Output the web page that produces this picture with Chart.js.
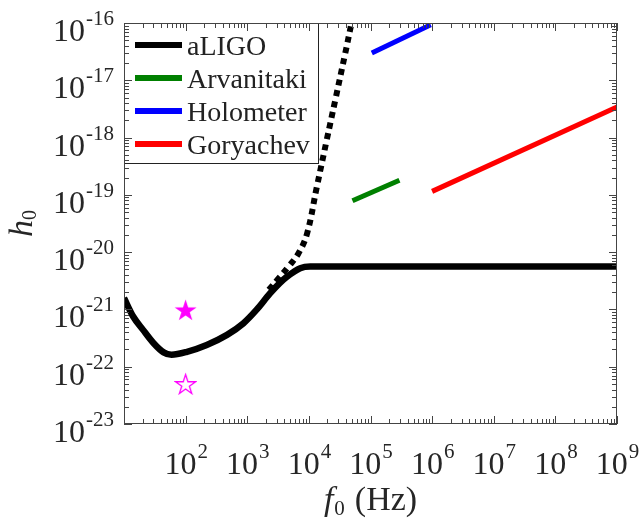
<!DOCTYPE html>
<html>
<head>
<meta charset="utf-8">
<script src="https://cdn.jsdelivr.net/npm/chart.js@4/dist/chart.umd.min.js"></script>
<style>
  html, body { margin: 0; padding: 0; background: #fff; }
  canvas { display: block; }
</style>
</head>
<body>
<canvas id="c" width="639" height="519"></canvas>
<script>
// values (f in Hz, h dimensionless)
const ligoF = [10, 14, 20.4, 30, 44, 59, 105, 220, 470, 870, 1410, 2340, 3390, 4370, 7240, 10500, 1e9];
const ligoH = [1.58e-21, 7.6e-22, 4.4e-22, 2.6e-22, 1.78e-22, 1.62e-22, 1.82e-22, 2.4e-22, 3.6e-22, 5.75e-22, 9.8e-22, 1.9e-21, 2.9e-21, 3.7e-21, 5.25e-21, 5.6e-21, 5.6e-21];
const ligoDotF = [2240, 3240, 4680, 6760, 9330, 13500, 19500, 26900, 38900, 47900];
const ligoDotH = [2.2e-21, 3.5e-21, 5.6e-21, 9.5e-21, 2.1e-20, 1.4e-19, 9.1e-19, 4.6e-18, 2.95e-17, 8.7e-17];
const arvF = [5.1e4, 2.95e5];
const arvH = [7.9e-20, 1.8e-19];
const holoF = [1.05e5, 9.5e5];
const holoH = [3.0e-17, 9.3e-17];
const goryF = [1.0e6, 1e9];
const goryH = [1.15e-19, 3.4e-18];
const starFilled = [{ x: 100, y: 1.0e-21 }];
const starOpen = [{ x: 100, y: 5.1e-23 }];

const legendNames = ['aLIGO', 'Arvanitaki', 'Holometer', 'Goryachev'];
const xTickExp = [2, 3, 4, 5, 6, 7, 8, 9];
const yTickExp = [-23, -22, -21, -20, -19, -18, -17, -16];

const pts = (fs, hs) => fs.map((f, i) => ({ x: f, y: hs[i] }));

function makeStar(size, filled) {
    const c = document.createElement('canvas');
    c.width = c.height = size;
    const g = c.getContext('2d');
    const R = size / 2 - 1, r = R * 0.382, cx = size / 2, cy = size / 2 + 1.5;
    g.beginPath();
    for (let i = 0; i < 10; i++) {
        const a = -Math.PI / 2 + i * Math.PI / 5;
        const rr = i % 2 ? r : R;
        g.lineTo(cx + rr * Math.cos(a), cy + rr * Math.sin(a));
    }
    g.closePath();
    if (filled) { g.fillStyle = '#ff00ff'; g.fill(); }
    else { g.fillStyle = '#fff'; g.fill(); g.strokeStyle = '#ff00ff'; g.lineWidth = 1.3; g.stroke(); }
    return c;
}

const SERIF = '"Liberation Serif", "Times New Roman", serif';

function drawPow(ctx, x, y, exp, align) {
    ctx.font = '32px ' + SERIF;
    const wb = ctx.measureText('10').width;
    ctx.font = '21px ' + SERIF;
    const we = ctx.measureText(exp).width;
    const w = wb + we;
    let x0 = align === 'right' ? x - w : x - w / 2;
    ctx.textAlign = 'left';
    ctx.textBaseline = 'alphabetic';
    ctx.font = '32px ' + SERIF;
    ctx.fillText('10', x0, y);
    ctx.font = '21px ' + SERIF;
    ctx.fillText(exp, x0 + wb + 1, y - 16);
}

const axesPlugin = {
    id: 'matlabAxes',
    afterDatasetsDraw(chart) {
        const ctx = chart.ctx, a = chart.chartArea;
        // legend box
        const lx = a.left + 0.5, ly = a.top + 0.5, lw = 194, lh = 140;
        ctx.save();
        ctx.fillStyle = '#fff';
        ctx.fillRect(lx, ly, lw, lh);
        ctx.strokeStyle = '#222';
        ctx.lineWidth = 1;
        ctx.strokeRect(lx, ly, lw, lh);
        const legendSets = chart.data.datasets.filter(d => legendNames.includes(d.label) && !d.noLegend);
        legendSets.forEach((d, i) => {
            const yy = a.top + 22 + i * 33;
            ctx.beginPath();
            ctx.strokeStyle = d.borderColor;
            ctx.lineWidth = 6;
            ctx.moveTo(a.left + 11, yy);
            ctx.lineTo(a.left + 58, yy);
            ctx.stroke();
            ctx.fillStyle = '#222';
            ctx.font = '28px ' + SERIF;
            ctx.textAlign = 'left';
            ctx.textBaseline = 'alphabetic';
            ctx.fillText(d.label, a.left + 63, yy + 10);
        });
        ctx.restore();
    },
    afterDraw(chart) {
        const ctx = chart.ctx, a = chart.chartArea;
        const xs = chart.scales.x, ys = chart.scales.y;
        ctx.save();
        ctx.strokeStyle = '#444';
        ctx.lineWidth = 1;
        ctx.strokeRect(a.left + 0.5, a.top + 0.5, a.right - a.left - 1, a.bottom - a.top - 1);
        ctx.beginPath();
        // x ticks, bottom and top
        for (let d = 1; d <= 9; d++) {
            for (let m = 1; m <= 9; m++) {
                const v = m * Math.pow(10, d);
                if (v < xs.min || v > xs.max) continue;
                const px = Math.round(xs.getPixelForValue(v)) + 0.5;
                const len = m === 1 ? 8 : 5;
                ctx.moveTo(px, a.bottom); ctx.lineTo(px, a.bottom - len);
                ctx.moveTo(px, a.top); ctx.lineTo(px, a.top + len);
            }
        }
        // y ticks, left and right
        for (let d = -23; d <= -16; d++) {
            for (let m = 1; m <= 9; m++) {
                const v = m * Math.pow(10, d);
                if (v < ys.min * 0.999 || v > ys.max * 1.001) continue;
                const py = Math.round(ys.getPixelForValue(v)) + 0.5;
                const len = m === 1 ? 8 : 5;
                ctx.moveTo(a.left, py); ctx.lineTo(a.left + len, py);
                ctx.moveTo(a.right, py); ctx.lineTo(a.right - len, py);
            }
        }
        ctx.stroke();

        ctx.fillStyle = '#262626';
        yTickExp.forEach(e => drawPow(ctx, a.left - 11, ys.getPixelForValue(Math.pow(10, e)) + 18, String(e), 'right'));
        xTickExp.forEach(e => drawPow(ctx, xs.getPixelForValue(Math.pow(10, e)), a.bottom + 50, String(e), 'center'));

        // x title: f_0 (Hz)
        const parts = [['f', 'italic 34px ' + SERIF, 0, 1], ['0', '21px ' + SERIF, 5, 10], ['(Hz)', '34px ' + SERIF, 0, 0]];
        let tw = 0;
        parts.forEach(p => { ctx.font = p[1]; tw += ctx.measureText(p[0]).width + p[3]; });
        let tx = (a.left + a.right) / 2 - tw / 2;
        ctx.textAlign = 'left';
        ctx.textBaseline = 'alphabetic';
        parts.forEach(p => {
            ctx.font = p[1];
            ctx.fillText(p[0], tx, 510 + p[2]);
            tx += ctx.measureText(p[0]).width + p[3];
        });

        // y title: h_0
        ctx.translate(32, (a.top + a.bottom) / 2);
        ctx.rotate(-Math.PI / 2);
        ctx.font = 'italic 34px ' + SERIF;
        const hw = ctx.measureText('h').width;
        ctx.font = '20px ' + SERIF;
        const zw = ctx.measureText('0').width;
        const sx = -(hw + zw) / 2;
        ctx.font = 'italic 34px ' + SERIF;
        ctx.fillText('h', sx, 0);
        ctx.font = '20px ' + SERIF;
        ctx.fillText('0', sx + hw, 4);
        ctx.restore();
    }
};

new Chart(document.getElementById('c'), {
    type: 'scatter',
    data: {
        datasets: [
            { label: 'aLIGO', data: pts(ligoF, ligoH), showLine: true, borderColor: '#000000', borderWidth: 6.5,
              pointRadius: 0, cubicInterpolationMode: 'monotone', borderCapStyle: 'butt' },
            { label: 'aLIGO', noLegend: true, data: pts(ligoDotF, ligoDotH), showLine: true, borderColor: '#000000', borderWidth: 6,
              borderDash: [6, 5], pointRadius: 0, tension: 0.4, borderCapStyle: 'butt' },
            { label: 'Arvanitaki', data: pts(arvF, arvH), showLine: true, borderColor: '#008000', borderWidth: 5, pointRadius: 0 },
            { label: 'Holometer', data: pts(holoF, holoH), showLine: true, borderColor: '#0000ff', borderWidth: 5, pointRadius: 0 },
            { label: 'Goryachev', data: pts(goryF, goryH), showLine: true, borderColor: '#ff0000', borderWidth: 5, pointRadius: 0 },
            { label: 'star', data: starFilled, pointStyle: makeStar(25, true), pointRadius: 12 },
            { label: 'star open', data: starOpen, pointStyle: makeStar(23, false), pointRadius: 11 }
        ]
    },
    options: {
        responsive: false,
        animation: false,
        layout: { padding: { left: 124, right: 22, top: 23, bottom: 95 } },
        plugins: { legend: { display: false }, tooltip: { enabled: false } },
        scales: {
            x: { type: 'logarithmic', min: 10, max: 1e9, display: false },
            y: { type: 'logarithmic', min: 1e-23, max: 1e-16, display: false }
        }
    },
    plugins: [axesPlugin]
});
</script>
</body>
</html>
